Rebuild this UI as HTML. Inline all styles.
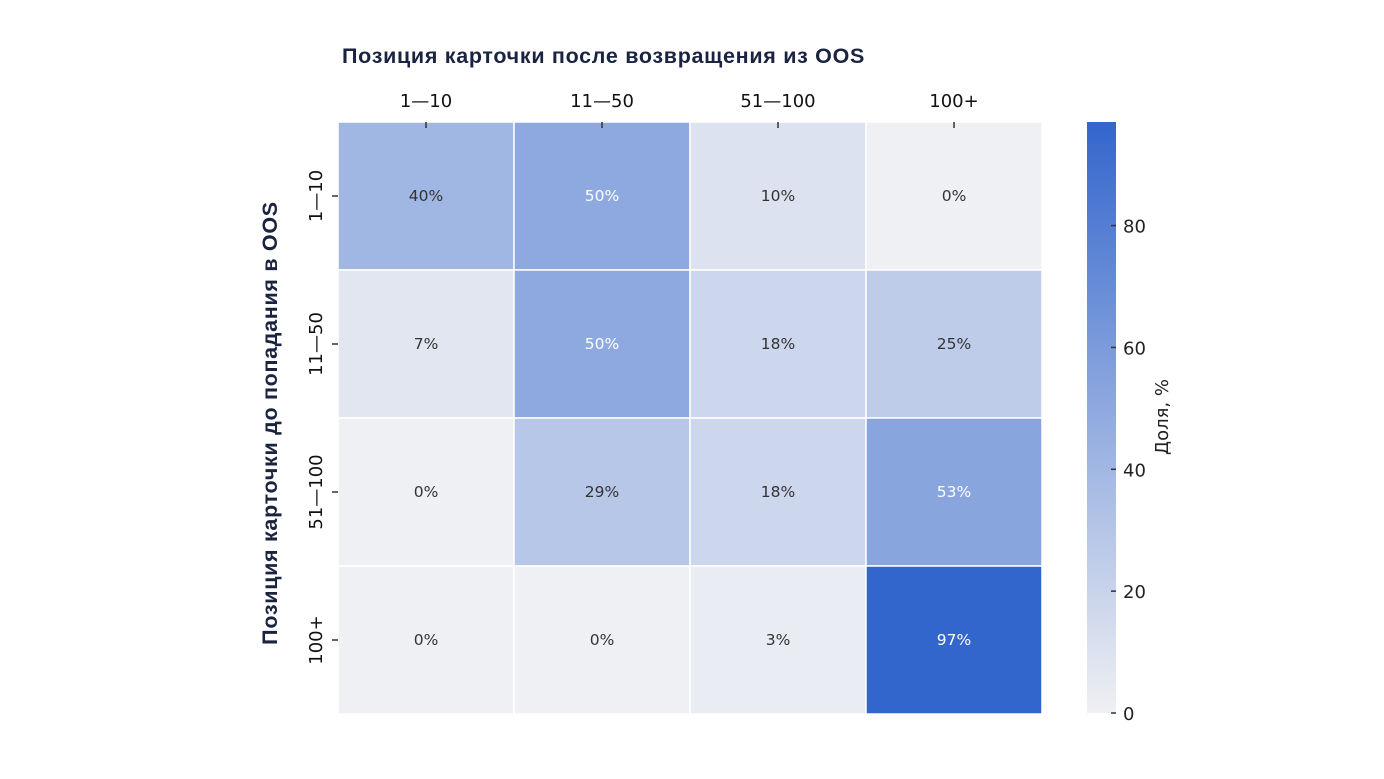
<!DOCTYPE html>
<html><head><meta charset="utf-8"><style>
body{margin:0;background:#fff;}
svg{display:block;font-family:"DejaVu Sans","Liberation Sans",sans-serif;}
</style></head><body>
<svg width="1384" height="779" viewBox="0 0 1384 779">
<defs><linearGradient id="cb" x1="0" y1="1" x2="0" y2="0"><stop offset="0" stop-color="#eff0f3"/><stop offset="1" stop-color="#3366cc"/></linearGradient></defs>
<text x="342" y="63" font-size="21.5" font-weight="bold" letter-spacing="0.7" fill="#1a2340" font-family="Liberation Sans,sans-serif">Позиция карточки после возвращения из OOS</text>
<text transform="translate(277,423) rotate(-90)" text-anchor="middle" font-size="21.5" font-weight="bold" letter-spacing="0.7" fill="#1a2340" font-family="Liberation Sans,sans-serif">Позиция карточки до попадания в OOS</text>
<g id="cells"></g><g id="axes"></g>
<rect x="1087" y="122" width="29" height="591" fill="url(#cb)"/>
<g id="cbticks"></g>
<text transform="translate(1168,417) rotate(-90)" text-anchor="middle" font-size="18" fill="#222">Доля, %</text>
</svg>
<script>
const cols=["1—10","11—50","51—100","100+"];
const rows=["1—10","11—50","51—100","100+"];
const values=[[40,50,10,0],[7,50,18,25],[0,29,18,53],[0,0,3,97]];
const cbTicks=[0,20,40,60,80];
const vmax=97;
const X0=338,Y0=122,CW=176,CH=148;
const ns="http://www.w3.org/2000/svg";
function mk(t,a,p){const e=document.createElementNS(ns,t);for(const k in a)e.setAttribute(k,a[k]);p.appendChild(e);return e;}
function col(v){const f=v/vmax;const c=[239+(51-239)*f,240+(102-240)*f,243+(204-243)*f].map(Math.round);return `rgb(${c})`;}
const xs=i=>X0+i*CW, ys=j=>Y0+j*CH;
const cg=document.getElementById('cells'),ag=document.getElementById('axes'),tg=document.getElementById('cbticks');
values.forEach((r,j)=>r.forEach((v,i)=>{
const rc=mk('rect',{x:xs(i),y:ys(j),width:CW,height:CH,fill:col(v),stroke:'#fff','stroke-width':1.5},cg);


const t=mk('text',{x:xs(i)+CW/2,y:ys(j)+CH/2+5,'text-anchor':'middle','font-size':15.5,fill:v>=45?'#fff':'#333'},cg);


t.textContent=v+'%';}));
cols.forEach((c,i)=>{const x=xs(i)+CW/2;
mk('line',{x1:x,x2:x,y1:Y0,y2:Y0+6,stroke:'#333','stroke-width':1.5},ag);
const t=mk('text',{x:x,y:107,'text-anchor':'middle','font-size':18,fill:'#111'},ag);


t.textContent=c;});
rows.forEach((r,j)=>{const y=ys(j)+CH/2;
mk('line',{x1:X0-6,x2:X0,y1:y,y2:y,stroke:'#333','stroke-width':1.5},ag);
const t=mk('text',{transform:`translate(322,${y}) rotate(-90)`,'text-anchor':'middle','font-size':18,fill:'#111'},ag);


t.textContent=r;});
cbTicks.forEach(v=>{const y=713-v/vmax*591;
mk('line',{x1:1111,x2:1116,y1:y,y2:y,stroke:'#333','stroke-width':1.5},tg);
const t=mk('text',{x:1123,y:y+7,'font-size':18,fill:'#222'},tg);


t.textContent=v;});
</script>
</body></html>
